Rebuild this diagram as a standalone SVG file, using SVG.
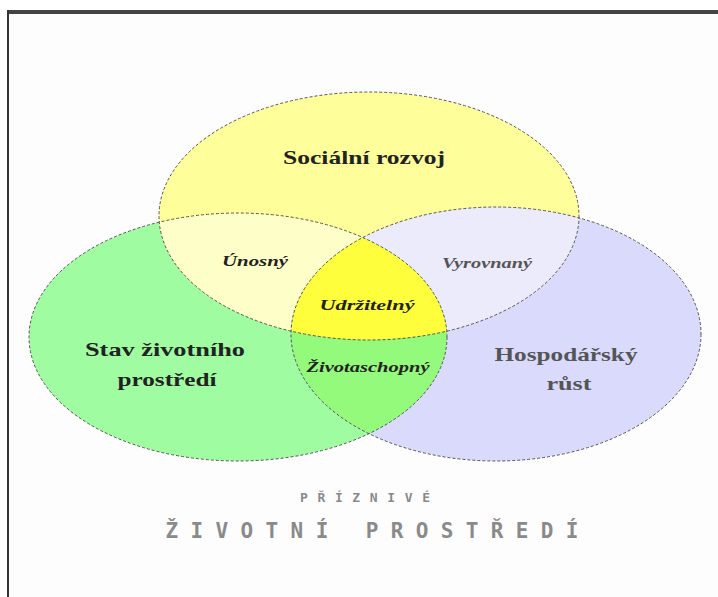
<svg xmlns="http://www.w3.org/2000/svg" width="718" height="597" viewBox="0 0 718 597">
<style>
.ol{fill:none;stroke:#555;stroke-width:1;stroke-dasharray:3 2}
.lbl{font-family:"Liberation Serif",serif;font-weight:bold;fill:#222;text-anchor:middle}
.it{font-style:italic;font-size:15px}
.big{font-size:19px}
.gray{fill:#555}
.cap{font-family:"DejaVu Sans Mono","Liberation Mono",monospace;font-weight:bold;fill:#8a8a8a;text-anchor:middle}
</style>
<defs>
<clipPath id="cY"><ellipse cx="369" cy="216" rx="210" ry="124"/></clipPath>
<clipPath id="cG"><ellipse cx="238" cy="337" rx="209" ry="124"/></clipPath>
<clipPath id="cB"><ellipse cx="496" cy="334" rx="205" ry="127"/></clipPath>
</defs>
<rect x="0" y="0" width="718" height="597" fill="#fff"/>
<rect x="9" y="12" width="709" height="585" fill="#fdfdfd"/>
<line x1="7" y1="12" x2="718" y2="12" stroke="#444" stroke-width="4"/>
<line x1="8" y1="10" x2="8" y2="597" stroke="#333" stroke-width="2"/>
<g id="fills">
<ellipse cx="238" cy="337" rx="209" ry="124" fill="#a0fca0"/>
<ellipse cx="496" cy="334" rx="205" ry="127" fill="#dadafd"/>
<ellipse cx="369" cy="216" rx="210" ry="124" fill="#fefe9a"/>
<g clip-path="url(#cY)"><ellipse cx="238" cy="337" rx="209" ry="124" fill="#fefec8"/><ellipse cx="496" cy="334" rx="205" ry="127" fill="#ebebfc"/></g>
<g clip-path="url(#cG)"><ellipse cx="496" cy="334" rx="205" ry="127" fill="#94fa7c"/></g>
<g clip-path="url(#cG)"><g clip-path="url(#cB)"><ellipse cx="369" cy="216" rx="210" ry="124" fill="#fefe3c"/></g></g>
</g>
<g id="outlines">
<ellipse class="ol" cx="238" cy="337" rx="209" ry="124"/>
<ellipse class="ol" cx="496" cy="334" rx="205" ry="127"/>
<ellipse class="ol" cx="369" cy="216" rx="210" ry="124"/>
</g>
<g id="social"><text class="lbl big" x="364" y="164" textLength="162" lengthAdjust="spacingAndGlyphs">Sociální rozvoj</text></g>
<g id="env"><text class="lbl big" x="165" y="356" textLength="160" lengthAdjust="spacingAndGlyphs">Stav životního</text><text class="lbl big" x="167" y="386" textLength="99" lengthAdjust="spacingAndGlyphs">prostředí</text></g>
<g id="econ"><text class="lbl big gray" x="566" y="361" textLength="143" lengthAdjust="spacingAndGlyphs">Hospodářský</text><text class="lbl big gray" x="569" y="390" textLength="45" lengthAdjust="spacingAndGlyphs">růst</text></g>
<g id="unosny"><text class="lbl it" x="255" y="266" textLength="66" lengthAdjust="spacingAndGlyphs">Únosný</text></g>
<g id="vyrovnany"><text class="lbl it gray" x="487" y="268" textLength="90" lengthAdjust="spacingAndGlyphs">Vyrovnaný</text></g>
<g id="udrzitelny"><text class="lbl it" x="367" y="310" textLength="95" lengthAdjust="spacingAndGlyphs">Udržitelný</text></g>
<g id="zivotaschopny"><text class="lbl it" x="368" y="372" textLength="123" lengthAdjust="spacingAndGlyphs">Životaschopný</text></g>
<g id="caption">
<text class="cap" x="365" y="502" font-size="13" textLength="130" lengthAdjust="spacing">PŘÍZNIVÉ</text>
<text class="cap" x="372" y="538" font-size="21" textLength="413" lengthAdjust="spacing">ŽIVOTNÍ PROSTŘEDÍ</text>
</g>
</svg>
